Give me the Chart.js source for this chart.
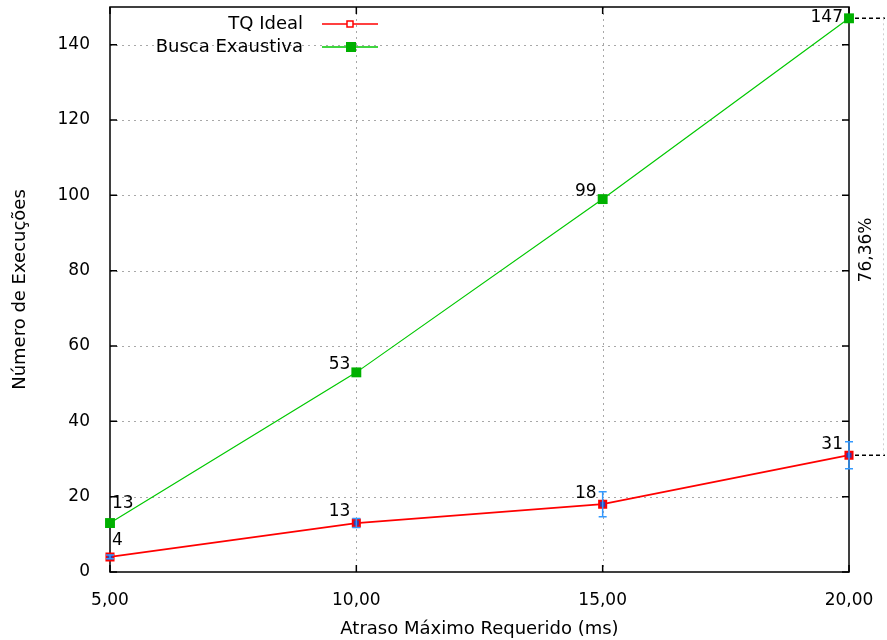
<!DOCTYPE html>
<html>
<head>
<meta charset="utf-8">
<script src="https://cdn.jsdelivr.net/npm/chart.js@4/dist/chart.umd.min.js"></script>
<style>
  html, body { margin: 0; background: #fff; }
</style>
</head>
<body>
<canvas id="chart" width="887" height="640"></canvas>
<script>
// valores do experimento
const atrasos = [5, 10, 15, 20];
const tqIdeal = [4, 13, 18, 31];
const tqErro = [0.5, 1.2, 3.3, 3.6];
const buscaExaustiva = [13, 53, 99, 147];
const xTicks = [5, 10, 15, 20];
const yTicks = [0, 20, 40, 60, 80, 100, 120, 140];
const reducao = '76,36%';

const FONT = 'DejaVu Sans';
const RED = '#ff0000', GREEN = '#00c800', BLUE = '#3399ff';
const fmt = v => v.toFixed(2).replace('.', ',');

// grade pontilhada, moldura e marcas internas estilo gnuplot
const frame = {
  id: 'frame',
  beforeDatasetsDraw(chart) {
    const { ctx, chartArea: a, scales: { x, y } } = chart;
    ctx.save();
    ctx.strokeStyle = '#a8a8a8';
    ctx.lineWidth = 1;
    ctx.setLineDash([2, 4]);
    yTicks.forEach(v => {
      if (v === 0) return;
      const py = Math.round(y.getPixelForValue(v)) + .5;
      ctx.beginPath(); ctx.moveTo(a.left, py); ctx.lineTo(a.right, py); ctx.stroke();
    });
    xTicks.forEach(v => {
      if (v === 5 || v === 20) return;
      const px = Math.round(x.getPixelForValue(v)) + .5;
      ctx.beginPath(); ctx.moveTo(px, a.top); ctx.lineTo(px, a.bottom); ctx.stroke();
    });
    ctx.setLineDash([]);
    ctx.strokeStyle = '#000';
    ctx.lineWidth = 1.5;
    ctx.strokeRect(a.left, a.top, a.right - a.left, a.bottom - a.top);
    yTicks.forEach(v => {
      const py = y.getPixelForValue(v);
      ctx.beginPath();
      ctx.moveTo(a.left, py); ctx.lineTo(a.left + 7, py);
      ctx.moveTo(a.right, py); ctx.lineTo(a.right - 7, py);
      ctx.stroke();
    });
    xTicks.forEach(v => {
      const px = x.getPixelForValue(v);
      ctx.beginPath();
      ctx.moveTo(px, a.bottom); ctx.lineTo(px, a.bottom - 7);
      ctx.moveTo(px, a.top); ctx.lineTo(px, a.top + 7);
      ctx.stroke();
    });
    ctx.restore();
  }
};

// barras de erro da TQ Ideal
const errorBars = {
  id: 'errorBars',
  afterDatasetsDraw(chart) {
    const { ctx, scales: { x, y } } = chart;
    ctx.save();
    ctx.strokeStyle = BLUE;
    ctx.lineWidth = 1.5;
    atrasos.forEach((a, i) => {
      const px = x.getPixelForValue(a);
      const lo = y.getPixelForValue(tqIdeal[i] - tqErro[i]);
      const hi = y.getPixelForValue(tqIdeal[i] + tqErro[i]);
      ctx.beginPath();
      ctx.moveTo(px, lo); ctx.lineTo(px, hi);
      ctx.moveTo(px - 4, lo); ctx.lineTo(px + 4, lo);
      ctx.moveTo(px - 4, hi); ctx.lineTo(px + 4, hi);
      ctx.stroke();
    });
    ctx.restore();
  }
};

// rótulos de valor, anotação da redução e legenda
const extras = {
  id: 'extras',
  afterDraw(chart) {
    const { ctx, chartArea: area, scales: { x, y } } = chart;
    ctx.save();
    ctx.font = `17px "${FONT}"`;
    ctx.fillStyle = '#000';
    ctx.textBaseline = 'middle';
    [tqIdeal, buscaExaustiva].forEach((serie, s) => {
      serie.forEach((v, i) => {
        const px = x.getPixelForValue(atrasos[i]);
        const py = y.getPixelForValue(v);
        if (i === 0) {
          ctx.textAlign = 'left';
          ctx.fillText(String(v), px + 2, py - (s === 0 ? 16 : 19));
        } else {
          ctx.textAlign = 'right';
          const ty = Math.max(py - (s === 0 ? 11 : 8), area.top + 11);
          ctx.fillText(String(v), px - 6, ty);
        }
      });
    });

    // linhas entre o último ponto de cada série
    const last = atrasos.length - 1;
    const xr = x.getPixelForValue(atrasos[last]);
    const yTop = y.getPixelForValue(buscaExaustiva[last]);
    const yBot = y.getPixelForValue(tqIdeal[last]);
    const xEnd = 885;
    ctx.strokeStyle = '#000';
    ctx.lineWidth = 1.5;
    ctx.setLineDash([4, 3]);
    ctx.beginPath();
    ctx.moveTo(xr + 6, yTop); ctx.lineTo(xEnd, yTop);
    ctx.moveTo(xr + 6, yBot); ctx.lineTo(xEnd, yBot);
    ctx.stroke();
    ctx.strokeStyle = '#d0d0d0';
    ctx.lineWidth = 1;
    ctx.setLineDash([2, 3]);
    ctx.beginPath();
    ctx.moveTo(xEnd - 1.5, yTop); ctx.lineTo(xEnd - 1.5, yBot);
    ctx.stroke();
    ctx.setLineDash([]);
    ctx.save();
    ctx.translate(867, 250);
    ctx.rotate(-Math.PI / 2);
    ctx.textAlign = 'center';
    ctx.fillText(reducao, 0, 0);
    ctx.restore();

    // legenda
    ctx.font = `18px "${FONT}"`;
    const itens = [
      { txt: 'TQ Ideal', cor: RED, cheio: false, ly: 24 },
      { txt: 'Busca Exaustiva', cor: GREEN, cheio: true, ly: 47 }
    ];
    itens.forEach(it => {
      ctx.textAlign = 'right';
      ctx.fillStyle = '#000';
      ctx.fillText(it.txt, 303, it.ly);
      ctx.strokeStyle = it.cor;
      ctx.lineWidth = 1.5;
      ctx.beginPath(); ctx.moveTo(322, it.ly); ctx.lineTo(378, it.ly); ctx.stroke();
      if (it.cheio) {
        ctx.fillStyle = '#00b000';
        ctx.fillRect(346, it.ly - 5, 10, 10);
      } else {
        ctx.fillStyle = '#fff';
        ctx.fillRect(347, it.ly - 3, 6, 6);
        ctx.strokeRect(347, it.ly - 3, 6, 6);
      }
    });
    ctx.restore();
  }
};

// zera o recuo automático dos rótulos para fixar a área do gráfico
const semRecuo = s => { s.paddingTop = 0; s.paddingBottom = 0; s.paddingLeft = 0; s.paddingRight = 0; };

new Chart(document.getElementById('chart'), {
  type: 'line',
  data: {
    datasets: [
      {
        label: 'TQ Ideal',
        data: atrasos.map((a, i) => ({ x: a, y: tqIdeal[i] })),
        borderColor: RED, borderWidth: 1.8,
        pointStyle: 'rect', pointRadius: 5, pointBorderWidth: 2,
        pointBorderColor: RED, pointBackgroundColor: '#3a3aa8',
        tension: 0, order: 0, clip: false
      },
      {
        label: 'Busca Exaustiva',
        data: atrasos.map((a, i) => ({ x: a, y: buscaExaustiva[i] })),
        borderColor: GREEN, borderWidth: 1.2,
        pointStyle: 'rect', pointRadius: 7, pointBorderWidth: 0,
        pointBackgroundColor: '#00b000', pointBorderColor: '#00b000',
        tension: 0, order: 1, clip: false
      }
    ]
  },
  options: {
    responsive: false,
    animation: false,
    devicePixelRatio: 1,
    layout: { padding: { left: 0, right: 38, top: 7, bottom: 0 } },
    plugins: { legend: { display: false }, tooltip: { enabled: false } },
    scales: {
      x: {
        type: 'linear', min: 5, max: 20,
        afterFit: s => { s.height = 68; semRecuo(s); },
        afterBuildTicks: s => { s.ticks = xTicks.map(v => ({ value: v })); },
        grid: { display: false, drawTicks: false },
        border: { display: false },
        ticks: { padding: 18, color: '#000', font: { family: FONT, size: 17 }, callback: v => fmt(v), maxRotation: 0 },
        title: { display: true, text: 'Atraso Máximo Requerido (ms)', color: '#000', font: { family: FONT, size: 18 }, padding: { top: 0, bottom: 0 } }
      },
      y: {
        min: 0, max: 150,
        afterFit: s => { s.width = 110; semRecuo(s); },
        afterBuildTicks: s => { s.ticks = yTicks.map(v => ({ value: v })); },
        grid: { display: false, drawTicks: false },
        border: { display: false },
        ticks: { padding: 20, color: '#000', font: { family: FONT, size: 17 } },
        title: { display: true, text: 'Número de Execuções', color: '#000', font: { family: FONT, size: 18 }, padding: { top: 10, bottom: 0 } }
      }
    }
  },
  plugins: [frame, errorBars, extras]
});
</script>
</body>
</html>
